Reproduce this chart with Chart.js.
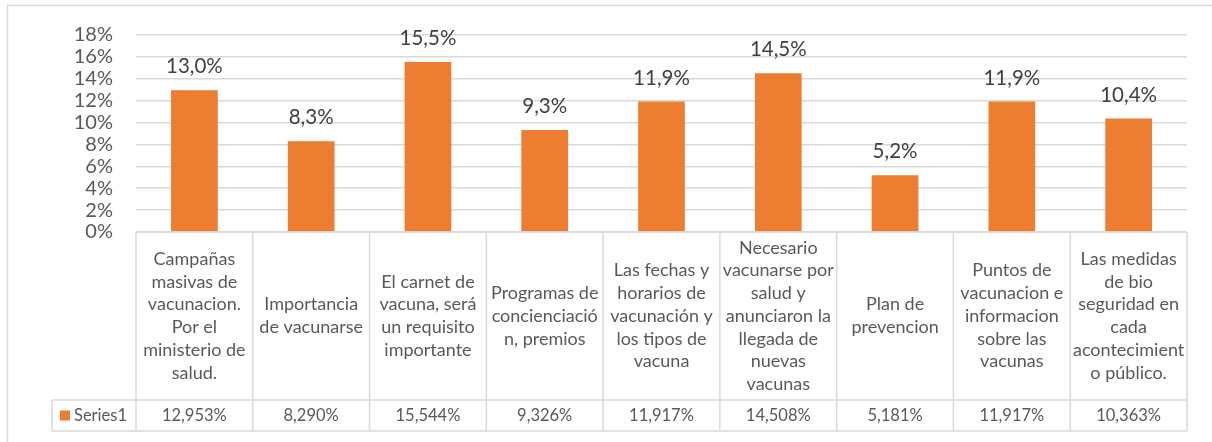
<!DOCTYPE html>
<html lang="es">
<head>
    <meta charset="UTF-8">
    <title>Gráfico de barras</title>
    <script src="https://cdn.jsdelivr.net/npm/chart.js"></script>
    <style>
        body {
            margin: 0;
            background: #fff;
        }
        .container {
            position: relative;
            width: 1212px;
            height: 442px;
        }
    </style>
</head>
<body>

    <div class="container">
        <canvas id="grafico"></canvas>
    </div>

    <script>
        // Categorías (ya partidas en líneas como en la tabla de datos)
        const categorias = [
            ["Campañas", "masivas de", "vacunacion.", "Por el", "ministerio de", "salud."],
            ["Importancia", "de vacunarse"],
            ["El carnet de", "vacuna, será", "un requisito", "importante"],
            ["Programas de", "concienciació", "n, premios"],
            ["Las fechas y", "horarios de", "vacunación y", "los tipos de", "vacuna"],
            ["Necesario", "vacunarse por", "salud y", "anunciaron la", "llegada de", "nuevas", "vacunas"],
            ["Plan de", "prevencion"],
            ["Puntos de", "vacunacion e", "informacion", "sobre las", "vacunas"],
            ["Las medidas", "de bio", "seguridad en", "cada", "acontecimient", "o público."]
        ];
        const serie1 = [12.953, 8.290, 15.544, 9.326, 11.917, 14.508, 5.181, 11.917, 10.363];
        const nombreSerie = "Series1";
        const ticksY = [0, 2, 4, 6, 8, 10, 12, 14, 16, 18];

        const naranja = "#ED7D31";
        const gris = "#d9d9d9";
        const texto = "#595959";
        const fuente = "Lato, 'Open Sans', sans-serif";

        function coma(v, dec) {
            return v.toFixed(dec).replace(".", ",");
        }

        // etiquetas encima de las barras
        const etiquetas = {
            id: "etiquetas",
            afterDatasetsDraw(chart) {
                const ctx = chart.ctx;
                const meta = chart.getDatasetMeta(0);
                ctx.save();
                ctx.font = "20.5px " + fuente;
                ctx.fillStyle = "#404040";
                ctx.textAlign = "center";
                ctx.textBaseline = "alphabetic";
                meta.data.forEach((bar, i) => {
                    ctx.fillText(coma(serie1[i], 1) + "%", bar.x, bar.y - 17);
                });
                ctx.restore();
            }
        };

        // tabla de datos debajo del gráfico
        const tabla = {
            id: "tabla",
            afterDraw(chart) {
                const ctx = chart.ctx;
                const x = chart.scales.x;
                const area = chart.chartArea;
                const n = categorias.length;
                const ancho = (area.right - area.left) / n;
                const top = area.bottom;
                const filaSerie = top + 168;
                const fondo = filaSerie + 31;
                const leyendaX = 52;

                ctx.save();
                ctx.strokeStyle = gris;
                ctx.lineWidth = 1.5;
                ctx.beginPath();
                // horizontales
                ctx.moveTo(area.left, top);
                ctx.lineTo(area.right, top);
                ctx.moveTo(leyendaX, filaSerie);
                ctx.lineTo(area.right, filaSerie);
                ctx.moveTo(leyendaX, fondo);
                ctx.lineTo(area.right, fondo);
                // verticales
                for (let i = 0; i <= n; i++) {
                    const xx = area.left + i * ancho;
                    ctx.moveTo(xx, top);
                    ctx.lineTo(xx, fondo);
                }
                ctx.moveTo(leyendaX, filaSerie);
                ctx.lineTo(leyendaX, fondo);
                ctx.stroke();

                // textos de categoría
                ctx.font = "18px " + fuente;
                ctx.fillStyle = texto;
                ctx.textAlign = "center";
                ctx.textBaseline = "middle";
                const alto = 22.7;
                const centro = (top + filaSerie) / 2;
                categorias.forEach((lineas, i) => {
                    const cx = x.getPixelForValue(i);
                    const y0 = centro - (lineas.length - 1) * alto / 2;
                    lineas.forEach((l, j) => ctx.fillText(l, cx, y0 + j * alto));
                });

                // fila de valores
                ctx.font = "16.5px " + fuente;
                categorias.forEach((lineas, i) => {
                    ctx.fillText(coma(serie1[i], 3) + "%", x.getPixelForValue(i), (filaSerie + fondo) / 2);
                });

                // leyenda de la serie
                ctx.fillStyle = naranja;
                ctx.fillRect(60, (filaSerie + fondo) / 2 - 5, 10, 10);
                ctx.fillStyle = texto;
                ctx.textAlign = "left";
                ctx.fillText(nombreSerie, 74, (filaSerie + fondo) / 2);

                // borde exterior (solo izquierda y arriba quedan visibles)
                ctx.strokeStyle = gris;
                ctx.lineWidth = 1.5;
                ctx.beginPath();
                ctx.moveTo(7.5, 442);
                ctx.lineTo(7.5, 5.5);
                ctx.lineTo(1212, 5.5);
                ctx.stroke();
                ctx.restore();
            }
        };

        let ctx = document.getElementById("grafico").getContext("2d");
        let grafico = new Chart(ctx, {
            type: "bar",
            data: {
                labels: categorias,
                datasets: [{
                    label: nombreSerie,
                    data: serie1,
                    backgroundColor: naranja,
                    categoryPercentage: 1,
                    barPercentage: 0.4
                }]
            },
            options: {
                responsive: true,
                maintainAspectRatio: false,
                animation: false,
                layout: { padding: { top: 34, bottom: 210, right: 25, left: 0 } },
                plugins: {
                    legend: { display: false },
                    tooltip: { enabled: false }
                },
                scales: {
                    x: { display: false },
                    y: {
                        min: 0,
                        max: 18,
                        afterBuildTicks: (s) => { s.ticks = ticksY.map(v => ({ value: v })); },
                        afterFit: (s) => { s.width = 136; },
                        border: { display: false },
                        grid: { color: gris, lineWidth: 1.5, drawTicks: false },
                        ticks: {
                            autoSkip: false,
                            padding: 23,
                            color: texto,
                            font: { family: fuente, size: 20 },
                            callback: (v) => v + "%"
                        }
                    }
                }
            },
            plugins: [etiquetas, tabla]
        });
    </script>

</body>
</html>
